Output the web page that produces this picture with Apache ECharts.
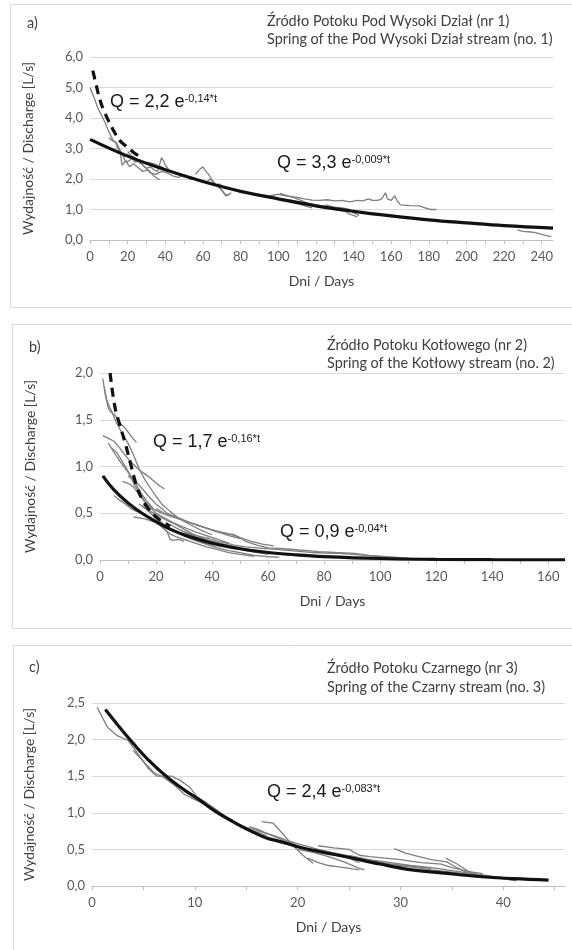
<!DOCTYPE html>
<html>
<head>
<meta charset="utf-8">
<title>Krzywe recesji wydajności źródeł</title>
<script src="https://cdn.jsdelivr.net/npm/echarts@6/dist/echarts.min.js"></script>
<style>
html,body{margin:0;padding:0;background:#fff;}
#main{width:572px;height:950px;}
</style>
</head>
<body>
<div id="main"></div>
<script>
// --- a) Źródło Potoku Pod Wysoki Dział (nr 1) ---
var aFit = [[0,3.3],[20,2.75],[40,2.3],[60,1.92],[80,1.6],[100,1.35],[120,1.12],[140,0.94],[160,0.79],[180,0.66],[200,0.56],[220,0.47],[246,0.39]];
var aFitDash = [[1.5,5.55],[3.5,5.03],[5.3,4.59],[8,4.15],[12.4,3.6],[16,3.25],[19.5,3.06],[23,2.88],[26.5,2.73]];
var aObs = [
  [[0,5.0],[2,4.7],[4,4.35],[6,4.1],[8,3.85],[10,3.55],[12,3.3],[14,3.15],[16,2.95],[18,2.7],[19,2.55],[21,2.6],[23,2.75],[25,2.6],[27,2.5]],
  [[10,3.35],[12,3.25],[14,3.2],[16,2.9],[17,2.45],[19,2.6],[21,2.4],[23,2.5],[26,2.35],[28,2.25],[31,2.3],[34,2.1],[37,1.97]],
  [[14,3.1],[16,2.85],[18,2.75],[20,2.8],[22,2.7],[24,2.55],[26,2.6],[28,2.45],[30,2.35],[32,2.4],[34,2.3],[36,2.25],[38,2.7],[39,2.6],[40,2.45],[42,2.3]],
  [[20,2.9],[23,2.7],[26,2.6],[29,2.4],[32,2.2],[35,2.15],[38,2.25],[41,2.2],[44,2.1],[47,2.05],[50,2.15],[53,2.0],[56,2.0]],
  [[30,2.55],[34,2.5],[38,2.4],[42,2.25],[46,2.2],[50,2.1],[54,2.05],[58,1.95],[62,1.9],[64,2.0],[66,1.85],[68,1.75],[70,1.65],[72,1.45],[74,1.5]],
  [[56,2.15],[58,2.3],[60,2.4],[61,2.3],[63,2.15],[65,1.95],[67,1.8],[69,1.7],[71,1.55],[73,1.45],[75,1.55]],
  [[68,1.85],[72,1.7],[76,1.65],[80,1.55],[85,1.5],[90,1.45],[95,1.4],[100,1.35],[105,1.3],[110,1.2],[115,1.1],[118,1.05]],
  [[85,1.55],[90,1.5],[95,1.45],[100,1.5],[104,1.45],[108,1.4],[112,1.3],[116,1.2],[120,1.15],[125,1.1],[130,1.0],[135,0.95],[138,0.85],[142,0.76]],
  [[101,1.53],[105,1.45],[110,1.4],[114,1.35],[118,1.31],[122,1.3],[126,1.32],[130,1.28],[134,1.3],[138,1.25],[142,1.3],[145,1.28],[148,1.35],[150,1.3],[153,1.3],[155,1.35],[157,1.55],[158,1.35],[160,1.3],[162,1.45],[163,1.3],[165,1.15],[170,1.13],[175,1.12],[178,1.05],[181,1.0],[184,1.0]],
  [[125,1.15],[130,1.08],[134,1.05],[138,1.0],[140,0.9],[143,0.8]],
  [[190,0.62],[195,0.6],[200,0.57],[205,0.55]],
  [[227,0.33],[230,0.28],[233,0.27],[236,0.25],[239,0.2],[242,0.15],[245,0.11]]
];

// --- b) Źródło Potoku Kotłowego (nr 2) ---
var bFit = [[1,0.9],[5,0.75],[10,0.61],[15,0.5],[20,0.41],[25,0.33],[30,0.27],[40,0.18],[50,0.12],[60,0.08],[70,0.055],[80,0.037],[100,0.016],[120,0.007],[140,0.003],[166,0.001]];
var bFitDash = [[3.6,2.0],[5.3,1.64],[7,1.45],[9,1.25],[11,1.02],[13,0.8],[15,0.65],[17,0.56],[20,0.46],[23,0.4],[25,0.36]];
var bObs = [
  [[1,1.94],[2,1.75],[3,1.62],[4,1.58],[5,1.56],[6,1.52],[7,1.47],[8,1.44],[9,1.41],[10,1.37],[11,1.33],[12,1.29],[13,1.26]],
  [[1.5,1.85],[2.5,1.7],[4,1.6],[6,1.46],[8,1.35],[10,1.25],[12,1.12],[14,0.97],[16,0.86],[18,0.77],[20,0.68],[22,0.6],[25,0.52],[28,0.45],[32,0.38],[36,0.32],[40,0.27]],
  [[1,1.33],[3,1.3],[5,1.27],[7,1.2],[9,1.12],[11,1.05],[13,0.99],[15,0.94],[17,0.9],[19,0.85],[21,0.8],[23,0.76]],
  [[4,1.2],[6,1.15],[8,1.05],[10,0.95],[12,0.82],[14,0.72],[16,0.63],[18,0.56],[20,0.5],[23,0.45],[26,0.4],[30,0.35],[34,0.3],[38,0.26],[42,0.22],[46,0.18]],
  [[8,0.84],[10,0.82],[12,0.78],[14,0.7],[16,0.62],[18,0.57],[20,0.53],[22,0.5],[25,0.47],[28,0.44],[31,0.41],[35,0.37],[39,0.33],[43,0.3],[46,0.28],[48,0.27],[50,0.24],[54,0.2],[58,0.17],[62,0.15]],
  [[5,0.69],[7,0.64],[9,0.6],[11,0.55],[13,0.52],[15,0.5],[17,0.46],[19,0.42],[21,0.38],[23,0.33],[25,0.28],[27,0.25],[30,0.22],[34,0.18],[38,0.14],[42,0.11],[46,0.08],[50,0.06],[55,0.04]],
  [[12,0.46],[14,0.45],[16,0.44],[18,0.42],[20,0.4],[22,0.36],[24,0.3],[25,0.22],[26,0.21],[28,0.22],[30,0.2]],
  [[10,0.9],[12,0.85],[14,0.8],[16,0.73],[18,0.66],[20,0.6],[22,0.55],[24,0.5],[27,0.46],[30,0.42],[34,0.38],[38,0.34],[42,0.3],[46,0.26],[50,0.23]],
  [[15,0.58],[18,0.52],[21,0.47],[24,0.42],[27,0.38],[30,0.33],[33,0.28],[36,0.24],[40,0.2],[44,0.16],[48,0.13],[52,0.1],[56,0.08],[60,0.06]],
  [[20,0.55],[23,0.5],[26,0.47],[29,0.44],[32,0.4],[35,0.37],[38,0.34],[41,0.31],[44,0.29],[47,0.27],[49,0.25],[52,0.2],[56,0.16],[60,0.13],[64,0.125],[68,0.115],[71,0.107],[74,0.1],[78,0.09],[84,0.08],[91,0.07],[96,0.05],[102,0.03],[106,0.018]],
  [[18,0.45],[21,0.4],[24,0.35],[27,0.3],[30,0.26],[34,0.21],[38,0.17],[42,0.13],[46,0.1],[50,0.08],[55,0.05],[60,0.035],[64,0.03]],
  [[25,0.38],[28,0.33],[31,0.29],[34,0.25],[37,0.22],[40,0.2],[44,0.17],[48,0.14],[52,0.12],[56,0.1],[60,0.08],[65,0.06],[70,0.05]],
  [[30,0.3],[33,0.27],[36,0.25],[39,0.23],[42,0.2],[45,0.18],[48,0.16],[52,0.14],[56,0.13],[60,0.12],[64,0.11],[68,0.1],[72,0.09],[76,0.08],[80,0.075],[85,0.07],[90,0.06],[95,0.05],[100,0.04],[105,0.03],[110,0.02]],
  [[14,0.6],[17,0.53],[20,0.45],[23,0.38],[26,0.32],[29,0.27],[32,0.23],[35,0.2],[38,0.17],[41,0.14]],
  [[3,1.25],[5,1.15],[7,1.06],[9,0.98],[11,0.9],[13,0.8],[15,0.7],[17,0.62],[19,0.55]]
];

// --- c) Źródło Potoku Czarnego (nr 3) ---
var cFit = [[1.3,2.41],[2.5,2.2],[4,1.95],[5.5,1.72],[7.3,1.49],[9,1.31],[10.5,1.17],[12,1.02],[13.7,0.88],[15.3,0.76],[16.9,0.66],[18.5,0.6],[20.2,0.53],[22.5,0.46],[24.7,0.4],[28,0.3],[31.1,0.22],[34,0.18],[37.6,0.13],[41,0.1],[44.4,0.08]];
var cObs = [
  [[0.5,2.44],[1.5,2.17],[2.5,2.05],[3.5,1.99],[4.5,1.8],[5.5,1.6],[6.3,1.5],[7,1.5],[7.7,1.5],[8.5,1.45],[9.5,1.35],[10.2,1.22],[11,1.15],[12,1.05],[13,0.95],[14,0.85],[15,0.78],[16,0.74],[17,0.69]],
  [[4,1.85],[5,1.7],[6,1.55],[7,1.48],[8,1.38],[9,1.25],[10,1.18],[11,1.12],[12,1.02],[13,0.93],[14,0.86],[15,0.8],[16,0.76],[17,0.72],[18,0.67]],
  [[15.3,0.81],[16,0.78],[17,0.72],[18,0.66],[19,0.6],[20,0.55],[21,0.5],[22,0.46]],
  [[16.5,0.88],[17.6,0.86],[18.5,0.72],[19.5,0.56],[20.5,0.42],[21.5,0.31]],
  [[17.4,0.7],[18.5,0.65],[19.5,0.58],[20.5,0.52],[22,0.47],[23.5,0.43],[25,0.38],[26,0.32]],
  [[18,0.6],[19.5,0.55],[21,0.5],[22.5,0.48],[24,0.44],[25.5,0.38],[27,0.34],[29,0.3],[31,0.27],[33,0.24]],
  [[20,0.5],[21.5,0.46],[23,0.4],[24.5,0.33],[26,0.24],[26.5,0.22]],
  [[22,0.55],[23.5,0.52],[25,0.5],[26,0.42],[27,0.4],[28.5,0.38],[30,0.36],[32,0.32],[34,0.3],[35,0.25],[36.5,0.2],[38,0.17]],
  [[29.4,0.51],[30.5,0.45],[31.8,0.4],[33,0.36],[34.5,0.33],[35.5,0.25],[36.5,0.18],[38,0.15]],
  [[34.4,0.38],[35.5,0.3],[36.6,0.2],[37.5,0.15],[39,0.12],[41.3,0.07]],
  [[25,0.42],[27,0.35],[29,0.3],[31,0.26],[33,0.22],[35,0.19],[37,0.16],[39,0.12],[41,0.08]],
  [[21,0.38],[22,0.32],[23,0.28],[24,0.26],[25,0.24],[26,0.22]],
  [[19,0.62],[20.5,0.56],[22,0.5],[23.5,0.45],[25,0.41],[27,0.36],[29,0.32],[31,0.28],[33,0.25],[35,0.21],[37,0.17],[39,0.13],[41.5,0.09]]
];

var xMax = [246, 166, 46];
var xStep = [10, 10, 5];
var xLabelStep = [20, 20, 10];
var yMax = [6, 2, 2.5];
var yStep = [1, 0.5, 0.5];

var labelFont = 'Lato';
var grey = '#7f7f7f';

function obsSeries(list, idx) {
  return list.map(function (d) {
    return { type: 'line', xAxisIndex: idx, yAxisIndex: idx, data: d, showSymbol: false,
      lineStyle: { color: grey, width: 1.3 }, z: 2, silent: true };
  });
}
function fitSeries(d, idx, dashed) {
  return { type: 'line', xAxisIndex: idx, yAxisIndex: idx, data: d, showSymbol: false, smooth: 0.4,
    lineStyle: { color: '#111', width: 3.2, type: dashed ? [9, 6] : 'solid' }, z: 5, silent: true };
}
function eq(x, y, main, sup) {
  return { type: 'text', x: x, y: y, silent: true, style: {
    text: '{m|' + main + '}{s|' + sup + '}', verticalAlign: 'middle',
    rich: { m: { fontSize: 18, fontFamily: 'Liberation Sans', fill: '#1a1a1a' },
            s: { fontSize: 11, fontFamily: 'Liberation Sans', fill: '#1a1a1a', verticalAlign: 'top' } } } };
}
function txt(x, y, s) {
  return { type: 'text', x: x, y: y, silent: true, style: { text: s, fontSize: 14.4, fontFamily: labelFont, fill: '#404040', verticalAlign: 'middle' } };
}
function box(x, y, w, h) {
  return { type: 'rect', shape: { x: x + 0.5, y: y + 0.5, width: w, height: h }, silent: true, z: -1,
    style: { fill: null, stroke: '#d9d9d9', lineWidth: 1 } };
}
var comma = function (v) { return v.toFixed(1).replace('.', ','); };

var grids = [
  { left: 90, top: 57, width: 463, height: 183 },
  { left: 100, top: 373, width: 465, height: 187 },
  { left: 92, top: 703, width: 473, height: 183 }
];
var yGap = [55, 63, 56];

var xAxes = [], yAxes = [];
for (var i = 0; i < 3; i++) {
  (function (i) {
    xAxes.push({ type: 'value', gridIndex: i, min: 0, max: xMax[i], interval: xStep[i],
      name: 'Dni / Days', nameLocation: 'middle', nameGap: 34,
      nameTextStyle: { fontSize: 14, fontFamily: labelFont, color: '#404040' },
      axisLine: { lineStyle: { color: '#bfbfbf' } },
      axisTick: { show: true, length: 4, lineStyle: { color: '#bfbfbf' } },
      axisLabel: { fontSize: 13, fontFamily: labelFont, color: '#595959', margin: 10,
        showMaxLabel: false,
        formatter: function (v) { return (Math.round(v) % xLabelStep[i] === 0) ? String(v) : ''; } },
      splitLine: { show: false } });
    yAxes.push({ type: 'value', gridIndex: i, min: 0, max: yMax[i], interval: yStep[i],
      name: 'Wydajność / Discharge [L/s]', nameLocation: 'middle', nameGap: yGap[i],
      nameTextStyle: { fontSize: 14, fontFamily: labelFont, color: '#404040' },
      axisLine: { show: false }, axisTick: { show: false },
      axisLabel: { fontSize: 13, fontFamily: labelFont, color: '#595959', margin: 7, formatter: comma },
      splitLine: { lineStyle: { color: '#d9d9d9' } } });
  })(i);
}

var series = [].concat(
  obsSeries(aObs, 0), [fitSeries(aFit, 0, false), fitSeries(aFitDash, 0, true)],
  obsSeries(bObs, 1), [fitSeries(bFit, 1, false), fitSeries(bFitDash, 1, true)],
  obsSeries(cObs, 2), [fitSeries(cFit, 2, false)]
);

var chart = echarts.init(document.getElementById('main'));
chart.setOption({
  animation: false,
  backgroundColor: '#fff',
  grid: grids,
  xAxis: xAxes,
  yAxis: yAxes,
  series: series,
  graphic: [
    box(10, 4, 580, 303), box(12, 324, 580, 304), box(13, 645, 580, 310),
    txt(27, 23, 'a)'), txt(267, 21, 'Źródło Potoku Pod Wysoki Dział (nr 1)'), txt(267, 39, 'Spring of the Pod Wysoki Dział stream (no. 1)'),
    txt(29, 347, 'b)'), txt(327, 345, 'Źródło Potoku Kotłowego (nr 2)'), txt(327, 363, 'Spring of the Kotłowy stream (no. 2)'),
    txt(29, 667, 'c)'), txt(327, 668, 'Źródło Potoku Czarnego (nr 3)'), txt(327, 687, 'Spring of the Czarny stream (no. 3)'),
    eq(110, 102, 'Q = 2,2 e', '-0,14*t'),
    eq(277, 163, 'Q = 3,3 e', '-0,009*t'),
    eq(153, 442, 'Q = 1,7 e', '-0,16*t'),
    eq(280, 532, 'Q = 0,9 e', '-0,04*t'),
    eq(267, 792, 'Q = 2,4 e', '-0,083*t')
  ]
});
</script>
</body>
</html>
